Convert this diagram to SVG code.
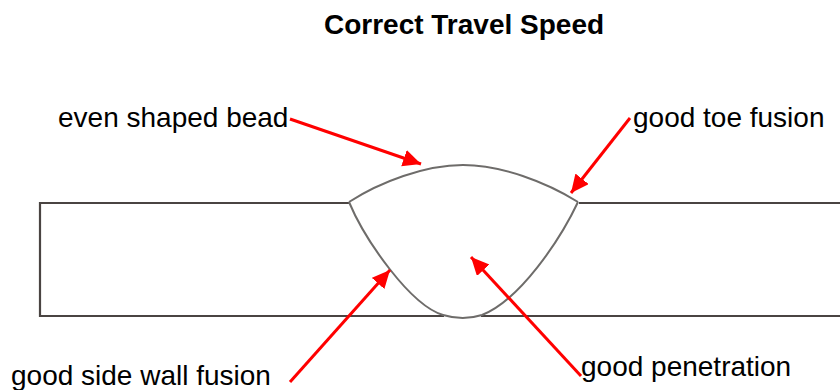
<svg xmlns="http://www.w3.org/2000/svg" width="840" height="390" viewBox="0 0 840 390">
<style>
text{font-family:"Liberation Sans",Arial,sans-serif;font-size:28px;fill:#000}
.plate{fill:none;stroke:#4a4442;stroke-width:2.2}
.weld{fill:none;stroke:#6e6c6a;stroke-width:2}
.arrow{fill:none;stroke:#ff0000;stroke-width:3;marker-end:url(#head)}
</style>
<defs>
<marker id="head" markerUnits="userSpaceOnUse" markerWidth="20" markerHeight="18" refX="18" refY="8.5" orient="auto">
<path d="M0 0L18 8.5L0 17Z" fill="#ff0000"/>
</marker>
</defs>
<rect width="840" height="390" fill="#fff"/>
<g id="title"><text x="464" y="34" text-anchor="middle" style="font-weight:bold">Correct Travel Speed</text></g>
<g id="plate"><path class="plate" d="M349 203H40V316H444M481 316H840M579 203H840"/></g>
<g id="bead">
<path class="weld" d="M349 202C380 182 425 165 463 165C501 165 546 182 578 202"/>
<path class="weld" d="M349 202C365 240 410 305 443 315Q463 321 482 315C520 300 560 240 578 202"/>
</g>
<g id="connectors">
<path class="arrow" d="M290 119L421 164"/>
<path class="arrow" d="M630 118L571 193"/>
<path class="arrow" d="M290 382L390 270"/>
<path class="arrow" d="M581 376L471 257"/>
</g>
<g id="label-bead"><text x="58" y="127">even shaped bead</text></g>
<g id="label-toe"><text x="633" y="127">good toe fusion</text></g>
<g id="label-side"><text x="11" y="385">good side wall fusion</text></g>
<g id="label-penetration"><text x="581" y="376">good penetration</text></g>
</svg>
